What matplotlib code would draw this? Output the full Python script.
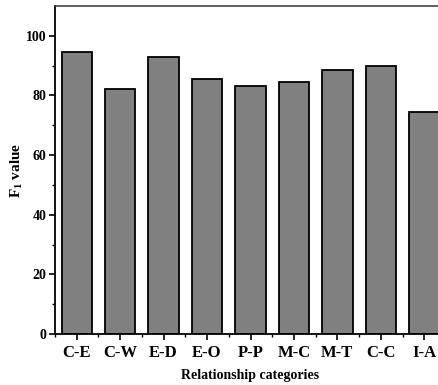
import matplotlib
matplotlib.use("Agg")
import matplotlib.pyplot as plt
from matplotlib.ticker import FixedLocator

categories = ["C-E", "C-W", "E-D", "E-O", "P-P", "M-C", "M-T", "C-C", "I-A"]
f1_values = [94.7, 82.2, 92.9, 85.5, 83.1, 84.4, 88.6, 89.8, 74.6]

plt.rcParams['font.family'] = ['Liberation Serif', 'DejaVu Serif']
plt.rcParams['mathtext.default'] = 'regular'

fig = plt.figure(figsize=(4.39, 3.85), dpi=100)
W, H = 439, 385
left, right, top, bottom = 55, 446, 6, 334
ax = fig.add_axes([left / W, 1 - bottom / H, (right - left) / W, (bottom - top) / H])

x = list(range(len(categories)))
ax.bar(x, f1_values, width=0.7, color='#808080', edgecolor='black', linewidth=1.3)

ax.set_xlim(-0.5, 8.5)
ax.set_ylim(0, 110)
ax.set_xticks(x)
ax.set_xticklabels(categories, fontsize=12, fontweight='bold')
ax.xaxis.set_minor_locator(FixedLocator([i + 0.5 for i in range(-1, 9)]))
ax.yaxis.set_major_locator(FixedLocator([0, 20, 40, 60, 80, 100]))
ax.yaxis.set_minor_locator(FixedLocator([10, 30, 50, 70, 90]))
for lbl in ax.get_yticklabels():
    lbl.set_fontsize(10)
    lbl.set_fontweight('bold')

ax.tick_params(axis='both', which='major', direction='out', length=4, width=1.2, pad=2)
ax.tick_params(axis='both', which='minor', direction='out', length=2.5, width=1.0)
ax.tick_params(axis='x', which='major', pad=4)

for s in ['left', 'bottom']:
    ax.spines[s].set_linewidth(1.3)
ax.spines['top'].set_linewidth(1.1)
ax.spines['top'].set_color('#333333')
ax.spines['right'].set_visible(False)

ax.set_xlabel('Relationship categories', fontsize=10, fontweight='bold', labelpad=6)
ax.set_ylabel('F$_1$ value', fontsize=11, fontweight='bold', labelpad=1)

fig.savefig('out.png', dpi=100)
